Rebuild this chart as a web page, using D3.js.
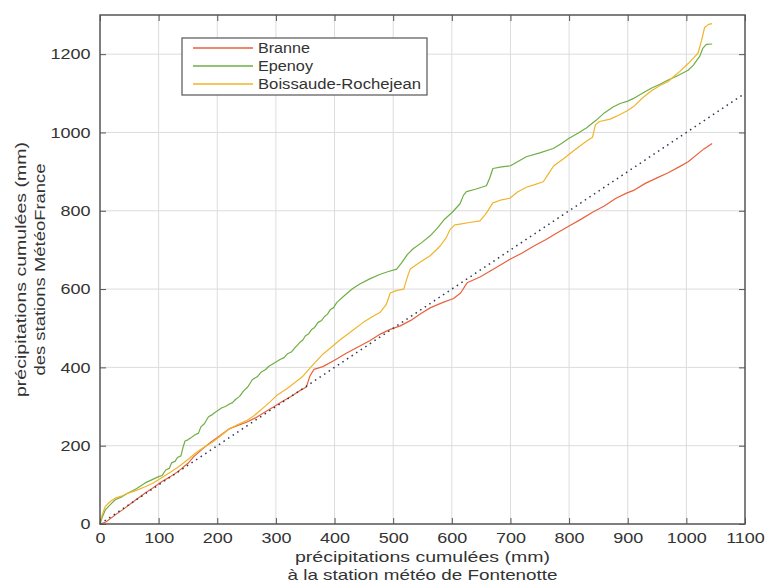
<!DOCTYPE html>
<html>
<head>
<meta charset="utf-8">
<script src="https://cdn.jsdelivr.net/npm/d3@7"></script>
<style>
  body { margin: 0; background: #fff; }
  text { font-family: "Liberation Sans", Arial, sans-serif; fill: #333; }
</style>
</head>
<body>
<svg id="chart" width="768" height="586"></svg>
<script>
// cumulative rainfall, [Fontenotte mm, station mm]
const branne = [[0,0],[10,5],[25,22],[40,38],[55,55],[77,79],[90,92],[105,108],[120,121],[134,135],[150,155],[160,172],[175,192],[190,210],[205,226],[220,243],[235,252],[250,260],[265,271],[280,285],[295,298],[310,312],[325,325],[340,340],[352,350],[358,378],[365,395],[380,402],[400,418],[420,436],[440,452],[460,468],[478,485],[495,497],[512,506],[530,520],[548,538],[563,552],[585,566],[603,576],[615,590],[626,616],[648,631],[670,650],[690,668],[700,677],[720,692],[740,710],[760,726],[780,744],[800,761],[820,778],[840,796],[860,812],[880,832],[898,845],[910,852],[930,870],[950,884],[969,897],[990,914],[1003,925],[1020,946],[1030,958],[1044,972]];

const epenoy = [[0,0],[4,18],[9,36],[18,50],[26,62],[38,70],[48,79],[62,90],[77,105],[90,114],[100,121],[106,124],[112,138],[118,142],[122,156],[128,160],[132,170],[138,174],[142,198],[145,212],[150,215],[155,220],[162,228],[168,232],[172,248],[178,256],[185,274],[190,278],[196,285],[208,297],[214,300],[220,306],[226,310],[231,318],[238,326],[245,340],[252,350],[260,369],[268,376],[275,388],[282,394],[288,403],[298,412],[307,420],[314,425],[320,435],[327,440],[333,451],[341,464],[346,470],[350,480],[356,486],[361,497],[366,502],[372,515],[378,520],[383,530],[388,536],[393,548],[398,552],[404,566],[418,585],[430,600],[443,613],[460,626],[478,638],[492,645],[506,651],[515,668],[524,688],[534,703],[548,718],[563,736],[575,755],[588,779],[600,795],[614,818],[620,840],[625,849],[640,855],[659,864],[665,885],[670,908],[685,912],[700,915],[715,928],[727,938],[750,948],[773,959],[787,972],[800,985],[815,998],[830,1012],[846,1031],[860,1050],[875,1065],[887,1074],[900,1080],[910,1087],[925,1100],[940,1113],[955,1123],[969,1134],[985,1145],[1003,1159],[1012,1172],[1023,1195],[1028,1215],[1034,1225],[1044,1226]];

const boissaude = [[0,0],[3,20],[9,45],[18,58],[26,66],[38,72],[48,79],[62,86],[77,95],[90,104],[105,118],[120,132],[134,146],[151,166],[162,180],[176,195],[191,208],[205,224],[220,242],[235,254],[250,264],[262,276],[275,292],[290,312],[301,328],[318,345],[333,362],[345,376],[358,398],[370,418],[381,435],[395,452],[409,470],[425,488],[449,515],[465,530],[478,541],[488,560],[495,590],[505,596],[518,600],[524,630],[529,651],[545,668],[563,685],[572,698],[580,710],[590,730],[597,752],[605,764],[614,766],[630,770],[648,774],[658,792],[670,820],[685,828],[699,832],[712,848],[727,860],[740,866],[756,874],[765,895],[774,915],[790,932],[805,950],[818,965],[830,978],[840,988],[845,1020],[852,1028],[870,1034],[887,1046],[900,1056],[910,1066],[925,1088],[940,1106],[955,1120],[969,1130],[980,1145],[989,1156],[1003,1176],[1012,1190],[1020,1203],[1026,1235],[1031,1268],[1038,1276],[1044,1278]];

const refLine = [[0,0],[1100,1100]];   // y = x

const seriesNames = ["Branne", "Epenoy", "Boissaude-Rochejean"];
const seriesColors = ["#e8613c", "#6fae44", "#f0b429"];
const xTicks = [0,100,200,300,400,500,600,700,800,900,1000,1100];
const yTicks = [0,200,400,600,800,1000,1200];

const svg = d3.select("#chart");
const pLeft = 100, pRight = 745, pTop = 15, pBottom = 524;

const x = d3.scaleLinear().domain([0, 1100]).range([pLeft, pRight]);
const y = d3.scaleLinear().domain([0, 1300]).range([pBottom, pTop]);

// grid
const grid = svg.append("g").attr("stroke", "#dcdcdc").attr("stroke-width", 1);
xTicks.slice(1, -1).forEach(t => {
  grid.append("line").attr("x1", x(t)).attr("x2", x(t)).attr("y1", pTop).attr("y2", pBottom);
});
yTicks.slice(1).forEach(t => {
  grid.append("line").attr("x1", pLeft).attr("x2", pRight).attr("y1", y(t)).attr("y2", y(t));
});

// lines
const line = d3.line().x(d => x(d[0])).y(d => y(d[1]));
const plot = svg.append("g");
[branne, epenoy, boissaude].forEach((s, i) => {
  plot.append("path").datum(s)
    .attr("d", line)
    .attr("fill", "none")
    .attr("stroke", seriesColors[i])
    .attr("stroke-width", 1.2)
    .attr("stroke-linejoin", "round");
});
plot.append("path").datum(refLine)
  .attr("d", line)
  .attr("fill", "none")
  .attr("stroke", "#2b3550")
  .attr("stroke-width", 1.5)
  .attr("stroke-dasharray", "1.5,4");

// axes, MATLAB style: ticks inward on all sides
const fmt = d3.format("d");
function styleAxis(g) {
  g.select(".domain").remove();
  g.selectAll(".tick line").attr("stroke", "#555");
  g.selectAll(".tick text").attr("font-size", 15).attr("fill", "#333");
}
svg.append("g").attr("transform", `translate(0,${pBottom})`)
  .call(d3.axisBottom(x).tickValues(xTicks).tickFormat(fmt).tickSizeInner(-6).tickSizeOuter(0).tickPadding(8))
  .call(styleAxis)
  .selectAll(".tick text").attr("transform", "scale(1.2,1)");
svg.append("g").attr("transform", `translate(0,${pTop})`)
  .call(d3.axisTop(x).tickValues(xTicks).tickSizeInner(-6).tickSizeOuter(0).tickFormat(""))
  .call(styleAxis);
svg.append("g").attr("transform", `translate(${pLeft},0)`)
  .call(d3.axisLeft(y).tickValues(yTicks).tickFormat(fmt).tickSizeInner(-6).tickSizeOuter(0).tickPadding(10))
  .call(styleAxis)
  .selectAll(".tick text").attr("transform", "scale(1.2,1)").attr("x", -8);
svg.append("g").attr("transform", `translate(${pRight},0)`)
  .call(d3.axisRight(y).tickValues(yTicks).tickSizeInner(-6).tickSizeOuter(0).tickFormat(""))
  .call(styleAxis);

// frame
svg.append("rect").attr("x", pLeft).attr("y", pTop)
  .attr("width", pRight - pLeft).attr("height", pBottom - pTop)
  .attr("fill", "none").attr("stroke", "#555").attr("stroke-width", 1.5);

// axis titles
const cx = (pLeft + pRight) / 2, cy = (pTop + pBottom) / 2;
svg.append("text").attr("x", cx).attr("y", 562).attr("text-anchor", "middle")
  .attr("font-size", 15).attr("textLength", 255).attr("lengthAdjust", "spacingAndGlyphs")
  .text("précipitations cumulées (mm)");
svg.append("text").attr("x", cx).attr("y", 580).attr("text-anchor", "middle")
  .attr("font-size", 15).attr("textLength", 270).attr("lengthAdjust", "spacingAndGlyphs")
  .text("à la station météo de Fontenotte");
svg.append("text").attr("transform", `translate(26,${cy}) rotate(-90)`).attr("text-anchor", "middle")
  .attr("font-size", 15).attr("textLength", 255).attr("lengthAdjust", "spacingAndGlyphs")
  .text("précipitations cumulées (mm)");
svg.append("text").attr("transform", `translate(45,${cy}) rotate(-90)`).attr("text-anchor", "middle")
  .attr("font-size", 15).attr("textLength", 212).attr("lengthAdjust", "spacingAndGlyphs")
  .text("des stations MétéoFrance");

// legend
const lg = svg.append("g").attr("transform", "translate(182,38)");
lg.append("rect").attr("width", 245).attr("height", 57)
  .attr("fill", "#fff").attr("stroke", "#555").attr("stroke-width", 1.2);
seriesNames.forEach((n, i) => {
  const yy = 10 + i * 18;
  lg.append("line").attr("x1", 11).attr("x2", 71).attr("y1", yy).attr("y2", yy)
    .attr("stroke", seriesColors[i]).attr("stroke-width", 1.3);
  lg.append("text").attr("x", 76).attr("y", yy + 5).attr("font-size", 14)
    .attr("textLength", [52, 55, 163][i]).attr("lengthAdjust", "spacingAndGlyphs")
    .text(n);
});
</script>
</body>
</html>
